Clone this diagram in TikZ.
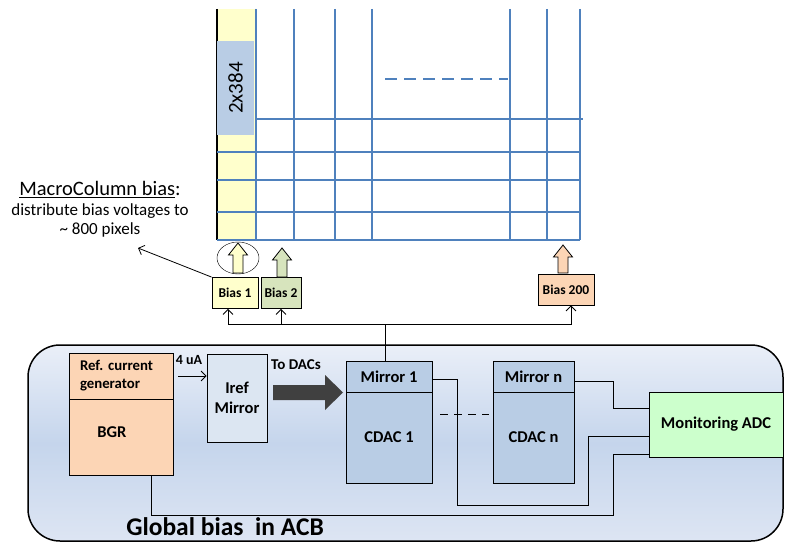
\documentclass[tikz,border=0pt]{standalone}
\usepackage{fontspec}
\setmainfont{Carlito}
\usetikzlibrary{arrows.meta}

\definecolor{gridblue}{HTML}{4F81BD}
\definecolor{biasyellow}{HTML}{FFFFCC}
\definecolor{biasgreen}{HTML}{D7E4BD}
\definecolor{biaspeach}{HTML}{FCD5B5}
\definecolor{lightsteel}{HTML}{B9CDE5}
\definecolor{ireffill}{HTML}{DCE6F2}
\definecolor{adcgreen}{HTML}{CCFFCC}
\definecolor{acbtop}{HTML}{EAEFF8}
\definecolor{acbmid}{HTML}{C5D5EC}
\definecolor{acbbot}{HTML}{DDE5F3}

\begin{document}
\begin{tikzpicture}
  [x=1pt,y=-1pt,>={Straight Barb[length=5pt,width=10pt]},
   every node/.style={font=\bfseries},
   gridline/.style={draw=gridblue,line width=1.6pt},
   block/.style={draw,thick,inner sep=1pt},
   biasbox/.style={block,minimum height=31pt,font=\bfseries\fontsize{13.5}{15}\selectfont},
   midtext/.style={font=\bfseries\fontsize{16.5}{20}\selectfont},
   wire/.style={thick}]
  \useasboundingbox (0,0) rectangle (785,543);

  % pixel matrix
  \fill[biasyellow] (217,9) rectangle (256,240);
  \draw[line width=1.6pt] (217,9) -- (217,240);
  \draw[thin] (255,9) -- (255,240);
  \foreach \x in {256,294,335,372,510,547,580}
    \draw[gridline] (\x,9) -- (\x,240);
  \foreach \y in {152,180,212,240}
    \draw[gridline] (217,\y) -- (580,\y);
  \draw[gridline] (256,119) -- (583,119);
  \draw[gridblue,line width=2.5pt,dash pattern=on 12pt off 7pt] (385,79) -- (508,79);
  \node[fill=lightsteel,minimum width=94pt,minimum height=37pt,rotate=90,
        font=\fontsize{21}{24}\selectfont] (cols) at (235.5,88) {2x384};

  % bias cells
  \node[biasbox,fill=biasyellow,minimum width=46pt] (bias1) at (235,293) {Bias 1};
  \node[biasbox,fill=biasgreen,minimum width=40pt] (bias2) at (281,293) {Bias 2};
  \node[biasbox,fill=biaspeach,minimum width=56pt] (bias200) at (566,289.5) {Bias 200};
  \foreach \x/\yb/\yt/\col in {238/273/243/biasyellow,282/277/248/biasgreen,563/273/245/biaspeach}
    \filldraw[fill=\col,thick] ({\x-5},\yb) -- ({\x-5},{\yt+12}) -- ({\x-9.5},{\yt+12}) -- (\x,\yt)
      -- ({\x+9.5},{\yt+12}) -- ({\x+5},{\yt+12}) -- ({\x+5},\yb) -- cycle;
  \draw (238,258) ellipse [x radius=21,y radius=16];

  \node[align=center,font=\fontsize{17}{19}\selectfont] (macro) at (100,209)
    {{\fontsize{20.5}{22}\selectfont\underline{MacroColumn bias}:}\\[1pt]distribute bias voltages to\\\textasciitilde{} 800 pixels};
  \coordinate (macrotip) at (138,248);
  \draw[->,thick] (bias1.north west) -- (macrotip);

  % global bias block
  \draw[line width=1.5pt,rounded corners=32pt,top color=acbtop,bottom color=acbbot,middle color=acbmid]
    (28,345) rectangle (783,541);
  \node[font=\bfseries\fontsize{25.5}{28}\selectfont] (acb) at (225,527) {Global bias~ in ACB};

  \node[block,fill=biaspeach,minimum width=104pt,minimum height=46pt,text width=82pt,
        align=left,font=\bfseries\fontsize{14.8}{18}\selectfont] (refgen) at (121,376) {Ref.\ current\\generator};
  \node[block,fill=biaspeach,minimum width=104pt,minimum height=76pt] (bgr) at (121,437) {};
  \node[midtext] (bgrtext) at (112,432) {BGR};
  \node[block,fill=ireffill,minimum width=60pt,minimum height=88pt,align=center,midtext] (iref) at (237,398) {Iref\\Mirror};
  \node[font=\bfseries\fontsize{14}{16}\selectfont] (ua) at (189,360) {4 uA};
  \draw[->,thick] ([xshift=5]refgen.east) -- (iref.west |- refgen.east);
  \node[font=\bfseries\fontsize{15}{17}\selectfont] (todacs) at (296,365) {To DACs};
  \fill[black!75] (273,385) -- (325,385) -- (325,375) -- (343,392.5) -- (325,410) -- (325,400) -- (273,400) -- cycle;

  \node[block,fill=lightsteel,minimum width=86pt,minimum height=31pt,midtext] (mir1) at (389,376.5) {Mirror 1};
  \node[block,fill=lightsteel,minimum width=86pt,minimum height=91pt,midtext] (cdac1) at (389,437.5) {CDAC 1};
  \node[block,fill=lightsteel,minimum width=81pt,minimum height=31pt,midtext] (mirn) at (533.5,376.5) {Mirror n};
  \node[block,fill=lightsteel,minimum width=81pt,minimum height=91pt,midtext] (cdacn) at (533.5,437.5) {CDAC n};
  \draw[thick,dash pattern=on 8pt off 6pt] (cdac1.east |- 0,414) ++(8,0) -- ++(49,0);
  \node[block,fill=adcgreen,minimum width=134pt,minimum height=65pt,midtext] (adc) at (716,424.5) {Monitoring ADC};

  % monitoring wires
  \draw[wire] ([yshift=-2.5]mir1.east) -| (457,505) -| (588,436) -- ([yshift=-11.5]adc.west);
  \draw[wire] ([yshift=-4.5]mirn.east) -| (613,408) -- ([yshift=16.5]adc.west);
  \draw[wire] ([xshift=30]bgr.south) |- (613,515) |- ([yshift=-29.5]adc.west);

  % bias distribution
  \coordinate (split) at (385,324);
  \draw[wire] ([xshift=-4]mir1.north) -- (split);
  \draw[->,thick] (split) -| ([xshift=-7]bias1.south);
  \draw[->,thick] (split) -| (bias2.south);
  \draw[->,thick] (split) -| ([xshift=5]bias200.south);
\end{tikzpicture}
\end{document}
